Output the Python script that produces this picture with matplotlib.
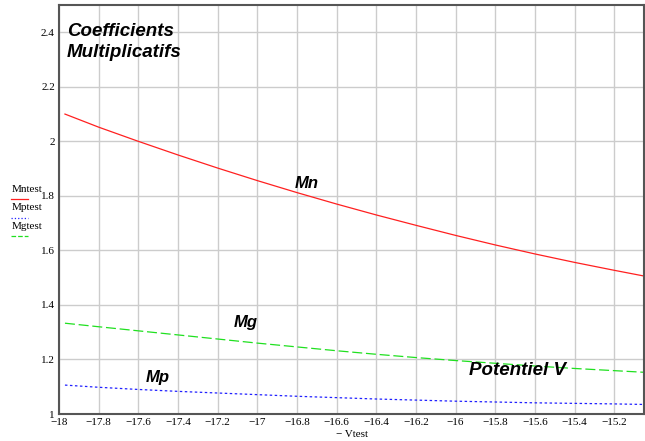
import matplotlib.pyplot as plt
from matplotlib.lines import Line2D
import numpy as np

# valeurs
vtest = [-17.97, -17.8, -17.6, -17.4, -17.2, -17.0, -16.8, -16.6, -16.4, -16.2,
         -16.0, -15.8, -15.6, -15.4, -15.2, -15.05]
mn = [2.100, 2.052, 2.000, 1.950, 1.902, 1.856, 1.812, 1.770, 1.730, 1.692,
      1.655, 1.620, 1.587, 1.556, 1.527, 1.506]
mg = [1.333, 1.32, 1.305, 1.29, 1.275, 1.26, 1.246, 1.232, 1.219, 1.207,
      1.196, 1.186, 1.176, 1.167, 1.159, 1.153]
mp = [1.106, 1.098, 1.09, 1.083, 1.077, 1.071, 1.065, 1.06, 1.055, 1.051,
      1.047, 1.044, 1.041, 1.039, 1.037, 1.035]

xticks = np.round(np.arange(-18, -15.1, 0.2), 1)
yticks = np.round(np.arange(1.0, 2.41, 0.2), 1)

fig = plt.figure(figsize=(6.45, 4.41), dpi=100)
ax = fig.add_axes([59 / 645, 27 / 441, 585 / 645, 409 / 441])

ax.plot(vtest, mn, color='#ff2020', lw=0.9)
ax.plot(vtest, mg, color='#20e020', lw=0.9, dashes=(8, 3))
ax.plot(vtest, mp, color='#2020ff', lw=0.9, dashes=(2, 2))

ax.set_xlim(-18, -15.05)
ax.set_ylim(1, 2.5)
ax.set_xticks(xticks)
ax.set_yticks(yticks)
ax.set_xticklabels(['\u2212%g' % abs(v) for v in xticks], family='Liberation Serif', fontsize=8)
ax.set_yticklabels(['%g' % v for v in yticks], family='Liberation Serif', fontsize=8)
ax.tick_params(length=0, pad=3)
ax.grid(True, color='#cccccc', lw=1)
for s in ax.spines.values():
    s.set_color('#555555')
    s.set_linewidth(1.5)

ax.set_xlabel('\u2212 Vtest', family='Liberation Serif', fontsize=8, labelpad=2)

# textes dans le graphique
txt = dict(family='Liberation Sans', fontsize=13.5, fontweight='bold', fontstyle='italic')
ax.text(-17.96, 2.435, 'Coefficients\nMultiplicatifs', va='top', ha='left', linespacing=1.3, **txt)
lbl = dict(family='Liberation Sans', fontsize=12, fontweight='bold', fontstyle='italic', ha='center', va='center')
ax.text(-16.75, 1.845, 'Mn', **lbl)
ax.text(-17.06, 1.335, 'Mg', **lbl)
ax.text(-17.5, 1.135, 'Mp', **lbl)
ax.text(-15.69, 1.16, 'Potentiel V', ha='center', va='center', **txt)

# légende à gauche
leg = [('Mntest', '#ff2020', '-'), ('Mptest', '#2020ff', ':'), ('Mgtest', '#20e020', '--')]
for i, (name, col, ls) in enumerate(leg):
    yt = 1 - (189 + 18.5 * i) / 441
    fig.text(12 / 645, yt, name, family='Liberation Serif', fontsize=8, va='center', ha='left')
    yl = yt - 10 / 441
    fig.add_artist(Line2D([11 / 645, 28 / 645], [yl, yl], color=col, lw=0.9, ls=ls))

fig.savefig('out.png', dpi=100)
